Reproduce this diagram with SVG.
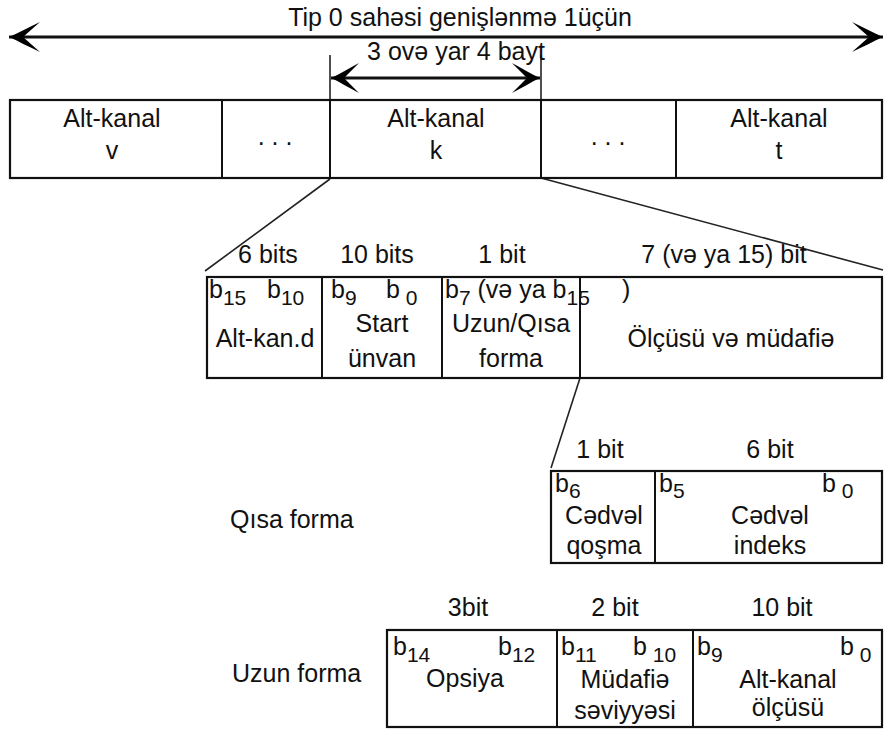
<svg xmlns="http://www.w3.org/2000/svg" width="884" height="731" viewBox="0 0 884 731">
<style>
text{font-family:"Liberation Sans",Arial,sans-serif;font-size:25px;fill:#111}
.c{text-anchor:middle}
.s{font-size:21px}
.box{fill:#fff;stroke:#111;stroke-width:2.2}
.div{stroke:#111;stroke-width:2}
.ln{stroke:#222;stroke-width:1.6;fill:none}
.ar{stroke:#111;stroke-width:3;fill:none}
</style>
<defs>
<marker id="ah" markerUnits="userSpaceOnUse" markerWidth="34" markerHeight="34" viewBox="-33 -17 34 34" refX="0" refY="0" orient="auto-start-reverse">
<path d="M0,0 C-9,-4 -20,-10 -31,-15 L-14,0 L-31,15 C-20,10 -9,4 0,0Z" fill="#000"/>
</marker>
<marker id="ahs" markerUnits="userSpaceOnUse" markerWidth="32" markerHeight="34" viewBox="-31 -17 32 34" refX="0" refY="0" orient="auto-start-reverse">
<path d="M0,0 C-9,-4 -18,-10 -28,-15 L-13,0 L-28,15 C-18,10 -9,4 0,0Z" fill="#000"/>
</marker>
</defs>
<rect width="884" height="731" fill="#fff"/>

<g id="connectors">
<line class="ar" x1="9" y1="37" x2="883" y2="37" marker-start="url(#ah)" marker-end="url(#ah)"/>
<line class="ln" x1="330" y1="55" x2="330" y2="100"/>
<line class="ln" x1="541" y1="55" x2="541" y2="100"/>
<line class="ar" x1="331" y1="78" x2="540" y2="78" marker-start="url(#ahs)" marker-end="url(#ahs)"/>
<line class="ln" x1="330" y1="179" x2="205" y2="271"/>
<line class="ln" x1="541" y1="178" x2="883" y2="270"/>
<line class="ln" x1="580" y1="378" x2="551" y2="468"/>
</g>

<g id="labels-top">
<text class="c" x="460" y="26">Tip 0 sahəsi genişlənmə 1üçün</text>
<text class="c" x="456" y="60">3 ovə yar 4 bayt</text>
</g>

<g id="frame">
<rect class="box" x="10" y="100" width="872" height="78"/>
<line class="div" x1="222" y1="100" x2="222" y2="178"/>
<line class="div" x1="330" y1="100" x2="330" y2="178"/>
<line class="div" x1="541" y1="100" x2="541" y2="178"/>
<line class="div" x1="676" y1="100" x2="676" y2="178"/>
<text class="c" x="112" y="127">Alt-kanal</text>
<text class="c" x="112" y="159">v</text>
<text class="c" x="275" y="145">. . .</text>
<text class="c" x="436" y="127">Alt-kanal</text>
<text class="c" x="436" y="159">k</text>
<text class="c" x="608" y="145">. . .</text>
<text class="c" x="779" y="127">Alt-kanal</text>
<text class="c" x="779" y="159">t</text>
</g>

<g id="subchannel">
<text class="c" x="268" y="263">6 bits</text>
<text class="c" x="377" y="263">10 bits</text>
<text class="c" x="502" y="263">1 bit</text>
<text class="c" x="724" y="263">7 (və ya 15) bit</text>
<rect class="box" x="207" y="277" width="675" height="101"/>
<line class="div" x1="322" y1="277" x2="322" y2="378"/>
<line class="div" x1="442" y1="277" x2="442" y2="378"/>
<line class="div" x1="580" y1="277" x2="580" y2="378"/>
<text x="209" y="298">b<tspan class="s" dy="7">15</tspan></text>
<text x="267" y="298">b<tspan class="s" dy="7">10</tspan></text>
<text class="c" x="265" y="347">Alt-kan.d</text>
<text x="331" y="298">b<tspan class="s" dy="7">9</tspan></text>
<text x="386" y="298">b<tspan class="s" dy="7"> 0</tspan></text>
<text class="c" x="382" y="332">Start</text>
<text class="c" x="382" y="367">ünvan</text>
<text x="445" y="298">b<tspan class="s" dy="7">7</tspan><tspan dy="-7"> (və ya b</tspan><tspan class="s" dy="7">15</tspan></text>
<text x="622" y="298">)</text>
<text class="c" x="511" y="332">Uzun/Qısa</text>
<text class="c" x="511" y="367">forma</text>
<text class="c" x="731" y="347">Ölçüsü və müdafiə</text>
</g>

<g id="short-form">
<text x="230" y="528">Qısa forma</text>
<text class="c" x="600" y="458">1 bit</text>
<text class="c" x="770" y="458">6 bit</text>
<rect class="box" x="551" y="471" width="331" height="92"/>
<line class="div" x1="655" y1="471" x2="655" y2="563"/>
<text x="555" y="492">b<tspan class="s" dy="6">6</tspan></text>
<text class="c" x="604" y="524">Cədvəl</text>
<text class="c" x="604" y="554">qoşma</text>
<text x="659" y="492">b<tspan class="s" dy="6">5</tspan></text>
<text x="822" y="492">b<tspan class="s" dy="6"> 0</tspan></text>
<text class="c" x="770" y="524">Cədvəl</text>
<text class="c" x="770" y="554">indeks</text>
</g>

<g id="long-form">
<text x="232" y="682">Uzun forma</text>
<text class="c" x="468" y="616">3bit</text>
<text class="c" x="615" y="616">2 bit</text>
<text class="c" x="782" y="616">10 bit</text>
<rect class="box" x="387" y="630" width="495" height="97"/>
<line class="div" x1="557" y1="630" x2="557" y2="727"/>
<line class="div" x1="693" y1="630" x2="693" y2="727"/>
<text x="393" y="655">b<tspan class="s" dy="7">14</tspan></text>
<text x="498" y="655">b<tspan class="s" dy="7">12</tspan></text>
<text class="c" x="465" y="687">Opsiya</text>
<text x="561" y="655">b<tspan class="s" dy="7">11</tspan></text>
<text x="633" y="655">b<tspan class="s" dy="7"> 10</tspan></text>
<text class="c" x="625" y="688">Müdafiə</text>
<text class="c" x="625" y="719">səviyyəsi</text>
<text x="697" y="655">b<tspan class="s" dy="7">9</tspan></text>
<text x="840" y="655">b<tspan class="s" dy="7"> 0</tspan></text>
<text class="c" x="788" y="688">Alt-kanal</text>
<text class="c" x="788" y="716">ölçüsü</text>
</g>
</svg>
